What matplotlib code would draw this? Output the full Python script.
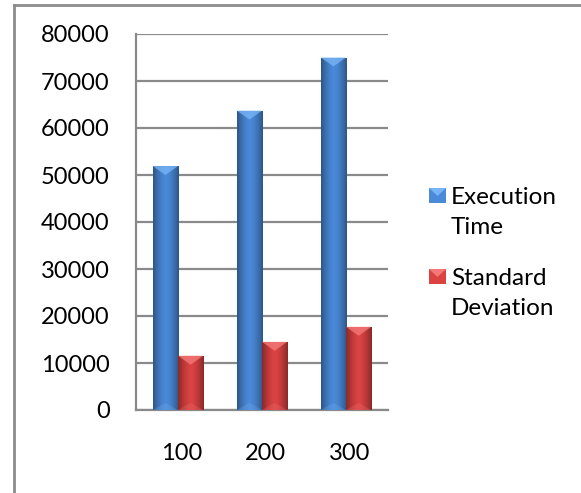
import numpy as np
import matplotlib
matplotlib.use('Agg')
import matplotlib.pyplot as plt
from matplotlib.patches import Rectangle, Polygon
from matplotlib.lines import Line2D

plt.rcParams['font.family'] = ['Lato', 'DejaVu Sans']

# data
categories = ['100', '200', '300']
exec_time = [51900, 63700, 75000]
std_dev = [11550, 14500, 17700]
series_names = ['Execution\nTime', 'Standard\nDeviation']
base_colors = [(0.29, 0.54, 0.85), (0.86, 0.26, 0.26)]
light_colors = [(0.47, 0.70, 0.96), (0.96, 0.47, 0.47)]

W, H = 581, 493
fig = plt.figure(figsize=(W / 100, H / 100), dpi=100)
ax = fig.add_axes([136 / W, 1 - 410 / H, (388 - 136) / W, (410 - 34) / H])

# outer chart frame (runs off right and bottom edge)
fig.add_artist(Line2D([14 / W, 14 / W], [-0.1, 1 - 5 / H], color='#8c8c8c', lw=2, transform=fig.transFigure))
fig.add_artist(Line2D([14 / W, 1.1], [1 - 5 / H, 1 - 5 / H], color='#8c8c8c', lw=2, transform=fig.transFigure))


def shade(base, n=64):
    t = np.linspace(-1, 1, n)
    k = 1 - 0.38 * np.abs(t) ** 1.6
    return np.clip(np.array(base)[None, :] * k[:, None], 0, 1)[None, :, :]


x = np.arange(len(categories))
width = 0.3
bevel = 1900
for i, vals in enumerate([exec_time, std_dev]):
    offs = -width / 2 if i == 0 else width / 2
    bars = ax.bar(x + offs, vals, width, color=base_colors[i], zorder=3, linewidth=0)
    for b in bars:
        x0, x1 = b.get_x(), b.get_x() + b.get_width()
        h = b.get_height()
        im = ax.imshow(shade(base_colors[i]), extent=[x0, x1, 0, h], aspect='auto', zorder=4)
        im.set_clip_path(b)
        xc = (x0 + x1) / 2
        ax.add_patch(Polygon([(x0, h), (x1, h), (xc, h - bevel)], closed=True,
                             facecolor=light_colors[i], edgecolor='none', alpha=0.8, zorder=5))
        ax.add_patch(Polygon([(x0, 0), (x1, 0), (xc, bevel * 0.8)], closed=True,
                             facecolor=light_colors[i], edgecolor='none', alpha=0.25, zorder=5))

ax.set_xlim(-0.5, 2.5)
ax.set_ylim(0, 80000)
ax.set_yticks(np.arange(0, 80001, 10000))
ax.set_xticks(x + 0.04)
ax.set_xticklabels(categories)
ax.tick_params(length=0, labelsize=17, colors='black')
ax.tick_params(axis='y', pad=19)
ax.tick_params(axis='x', pad=24)
ax.yaxis.grid(True, color='#8a8a8a', lw=1.6, zorder=1)
ax.set_axisbelow(True)
for s in ['top', 'right']:
    ax.spines[s].set_visible(False)
for s in ['left', 'bottom']:
    ax.spines[s].set_color('#8a8a8a')
    ax.spines[s].set_linewidth(1.6)

# legend drawn by hand
leg_y = [195, 276]
for i, name in enumerate(series_names):
    y = leg_y[i]
    fig.add_artist(Rectangle((429 / W, 1 - (y + 8) / H), 17 / W, 15 / H, transform=fig.transFigure,
                             facecolor=base_colors[i], edgecolor='none'))
    fig.add_artist(Polygon([(429 / W, 1 - (y - 7) / H), (446 / W, 1 - (y - 7) / H), (437.5 / W, 1 - (y + 1) / H)],
                           closed=True, transform=fig.transFigure, facecolor=light_colors[i], edgecolor='none'))
    fig.text(451 / W, 1 - (y - 8) / H, name, fontsize=17.5, va='top', ha='left', linespacing=1.55)

fig.savefig('out.png', dpi=100)
